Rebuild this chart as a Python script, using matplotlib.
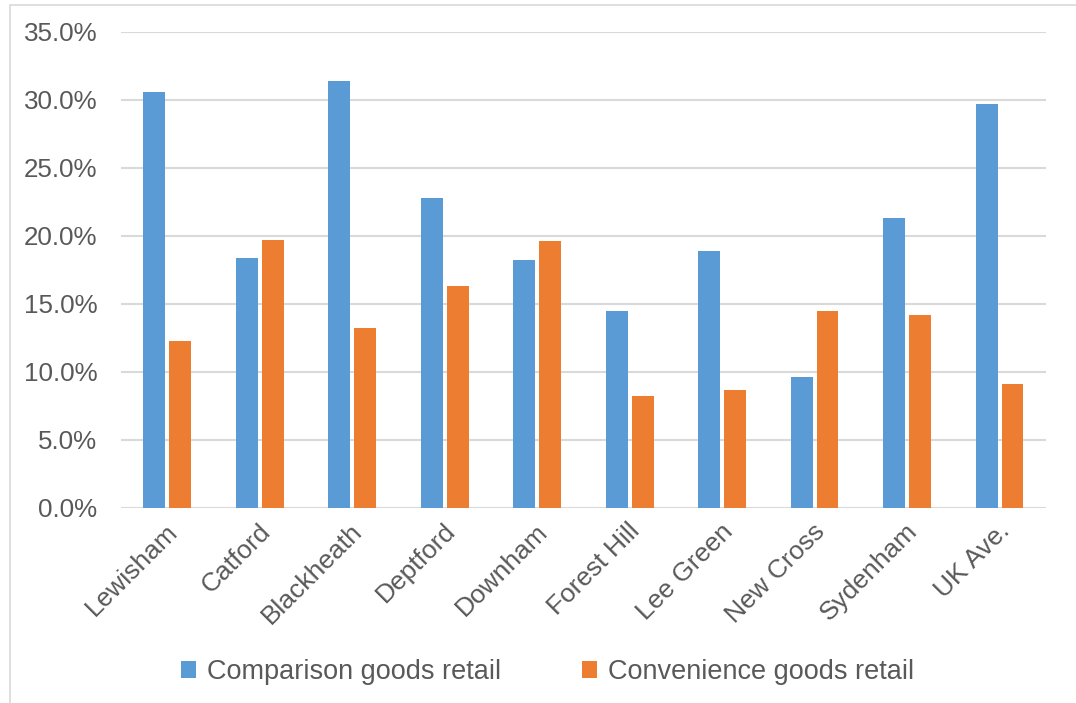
import numpy as np
import matplotlib
matplotlib.use("Agg")
import matplotlib.pyplot as plt
from matplotlib.patches import Rectangle
from matplotlib.ticker import FuncFormatter

plt.rcParams['font.family'] = ['Liberation Sans', 'DejaVu Sans']

areas = ["Lewisham", "Catford", "Blackheath", "Deptford", "Downham",
         "Forest Hill", "Lee Green", "New Cross", "Sydenham", "UK Ave."]
comparison = [30.6, 18.4, 31.4, 22.8, 18.2, 14.5, 18.9, 9.6, 21.3, 29.7]
convenience = [12.3, 19.7, 13.2, 16.3, 19.6, 8.2, 8.7, 14.5, 14.2, 9.1]

blue = "#5b9bd5"
orange = "#ed7d31"
grid = "#d9d9d9"
text_col = "#595959"

fig = plt.figure(figsize=(10.76, 7.03), dpi=100)
ax = fig.add_axes([0.1125, 0.2774, 0.8595, 0.6776])

# outer chart border
fig.patches.append(Rectangle((10 / 1076, -0.01), 1.05, 1 - 5 / 703 + 0.01,
                             transform=fig.transFigure, fill=False,
                             edgecolor=grid, linewidth=1.2))

x = np.arange(len(areas))
w = 0.235
gap = 0.045
ax.bar(x - (w + gap) / 2, comparison, width=w, color=blue,
       label="Comparison goods retail", zorder=3)
ax.bar(x + (w + gap) / 2, convenience, width=w, color=orange,
       label="Convenience goods retail", zorder=3)

ax.set_xlim(-0.5, len(areas) - 0.5)
ax.set_ylim(0, 35)
ax.set_yticks(np.arange(0, 36, 5))
ax.yaxis.set_major_formatter(FuncFormatter(lambda v, p: f"{v:.1f}%"))
ax.yaxis.grid(True, color=grid, linewidth=1.5, zorder=0)
ax.set_axisbelow(True)
for s in ax.spines.values():
    s.set_visible(False)
ax.tick_params(axis='y', length=0, pad=17, labelsize=18.7, labelcolor=text_col)
ax.tick_params(axis='x', length=0, pad=8, labelsize=19, labelcolor=text_col)

ax.set_xticks(x - 0.02)
ax.set_xticklabels(areas, rotation=45, ha='right', va='top',
                   rotation_mode='anchor')

fig.legend(loc='center', bbox_to_anchor=(0.509, 0.044), ncol=2,
           frameon=False, fontsize=19.5, labelcolor=text_col,
           handlelength=0.55, handleheight=0.55, handletextpad=0.4,
           columnspacing=3.0)

fig.savefig("out.png", dpi=100)
